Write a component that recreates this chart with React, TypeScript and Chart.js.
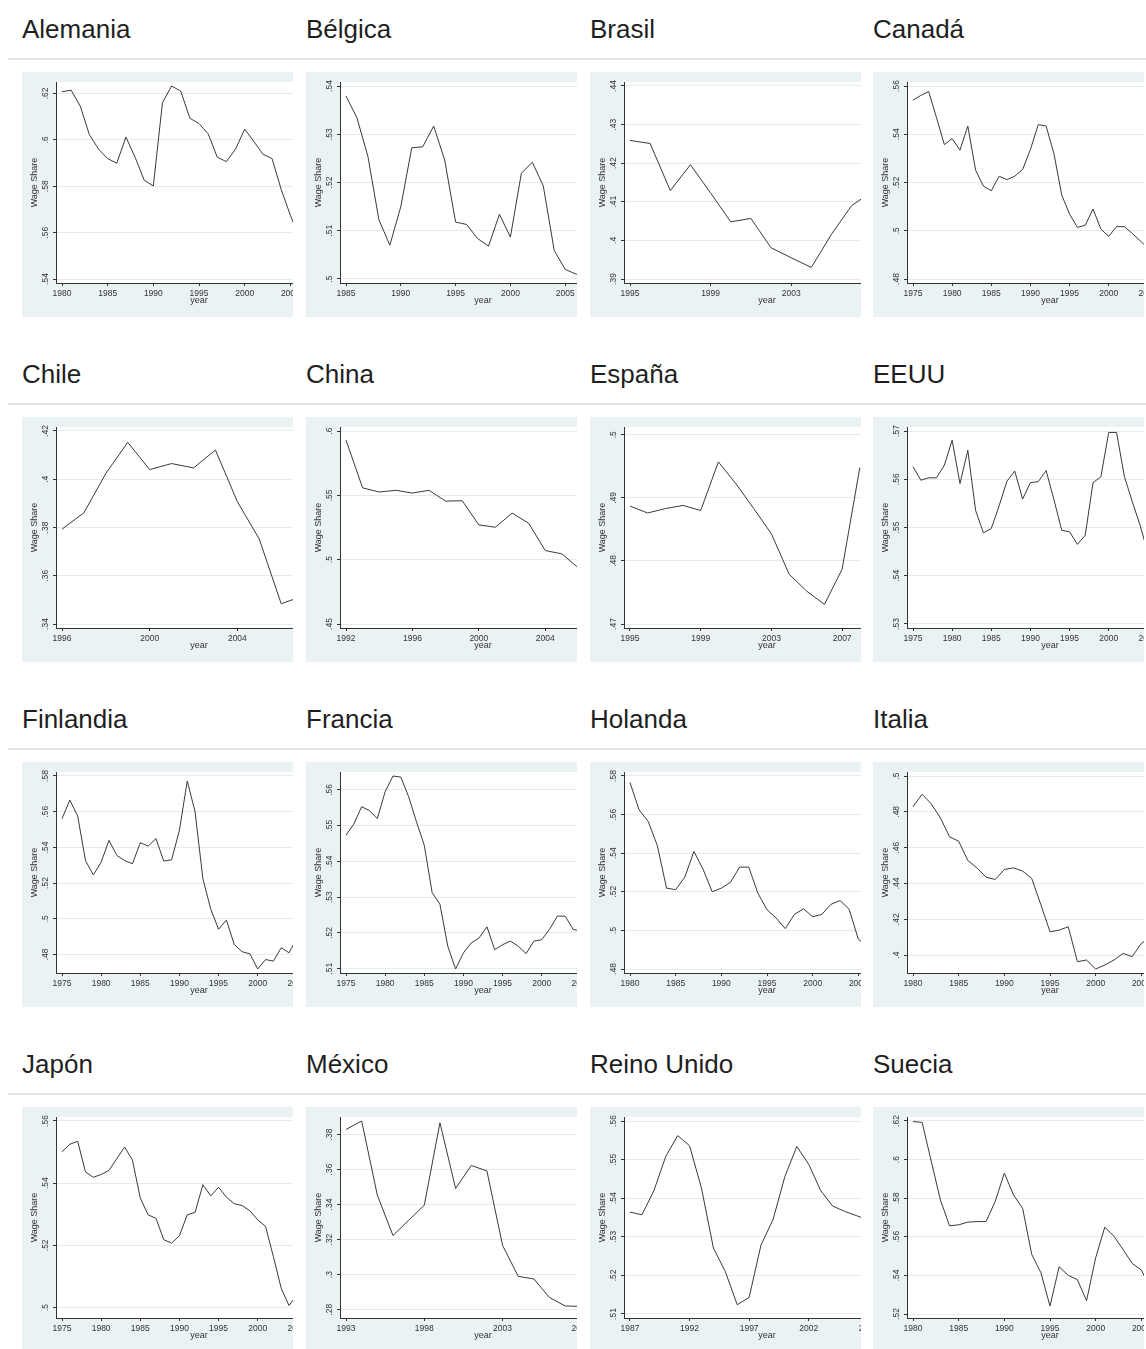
import React, { useEffect, useRef } from "react";
import { Chart, registerables } from "chart.js";

Chart.register(...registerables);

// ---------- wage share series (share of GDP) ----------
const alemaniaYears = [1980, 1981, 1982, 1983, 1984, 1985, 1986, 1987, 1988, 1989, 1990, 1991, 1992, 1993, 1994, 1995, 1996, 1997, 1998, 1999, 2000, 2001, 2002, 2003, 2004, 2005, 2006];
const alemaniaShare = [0.6207, 0.6214, 0.6145, 0.6022, 0.596, 0.5919, 0.5899, 0.6012, 0.5925, 0.5826, 0.5801, 0.616, 0.6232, 0.621, 0.6093, 0.607, 0.6026, 0.5925, 0.5906, 0.596, 0.6046, 0.5993, 0.5938, 0.5919, 0.5786, 0.5675, 0.558];
const alemaniaYearTicks = [1980, 1985, 1990, 1995, 2000, 2005, 2010];
const alemaniaShareTicks = [0.54, 0.56, 0.58, 0.6, 0.62];

const belgicaYears = [1985, 1986, 1987, 1988, 1989, 1990, 1991, 1992, 1993, 1994, 1995, 1996, 1997, 1998, 1999, 2000, 2001, 2002, 2003, 2004, 2005, 2006, 2007];
const belgicaShare = [0.5379, 0.5334, 0.5254, 0.5123, 0.507, 0.515, 0.5272, 0.5274, 0.5317, 0.5247, 0.5118, 0.5113, 0.5084, 0.5068, 0.5134, 0.5087, 0.5219, 0.5242, 0.5193, 0.5059, 0.502, 0.501, 0.5003];
const belgicaYearTicks = [1985, 1990, 1995, 2000, 2005, 2010];
const belgicaShareTicks = [0.5, 0.51, 0.52, 0.53, 0.54];

const brasilYears = [1995, 1996, 1997, 1998, 1999, 2000, 2001, 2002, 2003, 2004, 2005, 2006, 2007];
const brasilShare = [0.4259, 0.4251, 0.4129, 0.4196, 0.4123, 0.4048, 0.4057, 0.3981, 0.3955, 0.393, 0.4016, 0.409, 0.4126];
const brasilYearTicks = [1995, 1999, 2003, 2007];
const brasilShareTicks = [0.39, 0.4, 0.41, 0.42, 0.43, 0.44];

const canadaYears = [1975, 1976, 1977, 1978, 1979, 1980, 1981, 1982, 1983, 1984, 1985, 1986, 1987, 1988, 1989, 1990, 1991, 1992, 1993, 1994, 1995, 1996, 1997, 1998, 1999, 2000, 2001, 2002, 2003, 2004, 2005];
const canadaShare = [0.5541, 0.5561, 0.5577, 0.5469, 0.5357, 0.5382, 0.5334, 0.5434, 0.5251, 0.5185, 0.5166, 0.5226, 0.5212, 0.5226, 0.5254, 0.5337, 0.544, 0.5434, 0.532, 0.5148, 0.5069, 0.5014, 0.5023, 0.509, 0.5007, 0.4977, 0.5017, 0.5017, 0.4989, 0.4959, 0.4928];
const canadaYearTicks = [1975, 1980, 1985, 1990, 1995, 2000, 2005, 2010];
const canadaShareTicks = [0.48, 0.5, 0.52, 0.54, 0.56];

const chileYears = [1996, 1997, 1998, 1999, 2000, 2001, 2002, 2003, 2004, 2005, 2006, 2007];
const chileShare = [0.3793, 0.3861, 0.4024, 0.4153, 0.404, 0.4065, 0.4047, 0.4121, 0.3907, 0.3752, 0.3484, 0.3516];
const chileYearTicks = [1996, 2000, 2004, 2008];
const chileShareTicks = [0.34, 0.36, 0.38, 0.4, 0.42];

const chinaYears = [1992, 1993, 1994, 1995, 1996, 1997, 1998, 1999, 2000, 2001, 2002, 2003, 2004, 2005, 2006];
const chinaShare = [0.5929, 0.5558, 0.5526, 0.5539, 0.5518, 0.5539, 0.5455, 0.5458, 0.527, 0.5252, 0.5362, 0.5283, 0.5071, 0.5045, 0.4935];
const chinaYearTicks = [1992, 1996, 2000, 2004, 2008];
const chinaShareTicks = [0.45, 0.5, 0.55, 0.6];

const espanaYears = [1995, 1996, 1997, 1998, 1999, 2000, 2001, 2002, 2003, 2004, 2005, 2006, 2007, 2008];
const espanaShare = [0.4887, 0.4876, 0.4883, 0.4888, 0.488, 0.4957, 0.4922, 0.4883, 0.4843, 0.4779, 0.4752, 0.4731, 0.4787, 0.4948];
const espanaYearTicks = [1995, 1999, 2003, 2007];
const espanaShareTicks = [0.47, 0.48, 0.49, 0.5];

const eeuuYears = [1975, 1976, 1977, 1978, 1979, 1980, 1981, 1982, 1983, 1984, 1985, 1986, 1987, 1988, 1989, 1990, 1991, 1992, 1993, 1994, 1995, 1996, 1997, 1998, 1999, 2000, 2001, 2002, 2003, 2004, 2005];
const eeuuShare = [0.5626, 0.5598, 0.5603, 0.5603, 0.5629, 0.5681, 0.5591, 0.566, 0.5535, 0.5489, 0.5498, 0.5545, 0.5596, 0.5617, 0.5559, 0.5593, 0.5595, 0.5618, 0.5558, 0.5494, 0.5491, 0.5465, 0.5484, 0.5593, 0.5605, 0.5697, 0.5697, 0.5606, 0.5554, 0.5505, 0.5448];
const eeuuYearTicks = [1975, 1980, 1985, 1990, 1995, 2000, 2005, 2010];
const eeuuShareTicks = [0.53, 0.54, 0.55, 0.56, 0.57];

const finlandiaYears = [1975, 1976, 1977, 1978, 1979, 1980, 1981, 1982, 1983, 1984, 1985, 1986, 1987, 1988, 1989, 1990, 1991, 1992, 1993, 1994, 1995, 1996, 1997, 1998, 1999, 2000, 2001, 2002, 2003, 2004, 2005];
const finlandiaShare = [0.5561, 0.5665, 0.5576, 0.5326, 0.5245, 0.5317, 0.5439, 0.5355, 0.5326, 0.5308, 0.5426, 0.5407, 0.5449, 0.5323, 0.533, 0.5496, 0.5772, 0.5599, 0.5223, 0.5054, 0.4941, 0.4992, 0.4856, 0.4815, 0.4803, 0.4718, 0.4771, 0.4762, 0.4837, 0.4809, 0.489];
const finlandiaYearTicks = [1975, 1980, 1985, 1990, 1995, 2000, 2005, 2010];
const finlandiaShareTicks = [0.48, 0.5, 0.52, 0.54, 0.56, 0.58];

const franciaYears = [1975, 1976, 1977, 1978, 1979, 1980, 1981, 1982, 1983, 1984, 1985, 1986, 1987, 1988, 1989, 1990, 1991, 1992, 1993, 1994, 1995, 1996, 1997, 1998, 1999, 2000, 2001, 2002, 2003, 2004, 2005];
const franciaShare = [0.5473, 0.5505, 0.5553, 0.5542, 0.552, 0.5595, 0.5639, 0.5636, 0.5581, 0.5511, 0.5445, 0.5313, 0.528, 0.5163, 0.5099, 0.5144, 0.5172, 0.5186, 0.5217, 0.5153, 0.5167, 0.5177, 0.5163, 0.5142, 0.5177, 0.5181, 0.521, 0.5247, 0.5247, 0.521, 0.5205];
const franciaYearTicks = [1975, 1980, 1985, 1990, 1995, 2000, 2005, 2010];
const franciaShareTicks = [0.51, 0.52, 0.53, 0.54, 0.55, 0.56];

const holandaYears = [1980, 1981, 1982, 1983, 1984, 1985, 1986, 1987, 1988, 1989, 1990, 1991, 1992, 1993, 1994, 1995, 1996, 1997, 1998, 1999, 2000, 2001, 2002, 2003, 2004, 2005, 2006];
const holandaShare = [0.5766, 0.5624, 0.5564, 0.5438, 0.5219, 0.5211, 0.5276, 0.5409, 0.5317, 0.52, 0.5219, 0.5249, 0.5328, 0.5328, 0.5193, 0.5107, 0.5064, 0.5009, 0.5083, 0.5112, 0.5071, 0.5083, 0.5135, 0.5155, 0.5109, 0.4954, 0.492];
const holandaYearTicks = [1980, 1985, 1990, 1995, 2000, 2005, 2010];
const holandaShareTicks = [0.48, 0.5, 0.52, 0.54, 0.56, 0.58];

const italiaYears = [1980, 1981, 1982, 1983, 1984, 1985, 1986, 1987, 1988, 1989, 1990, 1991, 1992, 1993, 1994, 1995, 1996, 1997, 1998, 1999, 2000, 2001, 2002, 2003, 2004, 2005, 2006];
const italiaShare = [0.4829, 0.4898, 0.4844, 0.4766, 0.466, 0.4636, 0.4528, 0.4487, 0.4435, 0.4422, 0.4478, 0.4487, 0.4469, 0.4428, 0.4281, 0.413, 0.4139, 0.4158, 0.3963, 0.3972, 0.3922, 0.3944, 0.3972, 0.4009, 0.3991, 0.4065, 0.41];
const italiaYearTicks = [1980, 1985, 1990, 1995, 2000, 2005, 2010];
const italiaShareTicks = [0.4, 0.42, 0.44, 0.46, 0.48, 0.5];

const japonYears = [1975, 1976, 1977, 1978, 1979, 1980, 1981, 1982, 1983, 1984, 1985, 1986, 1987, 1988, 1989, 1990, 1991, 1992, 1993, 1994, 1995, 1996, 1997, 1998, 1999, 2000, 2001, 2002, 2003, 2004, 2005];
const japonShare = [0.5501, 0.5525, 0.5535, 0.5436, 0.5419, 0.5428, 0.5441, 0.5479, 0.5516, 0.5474, 0.5352, 0.5298, 0.5287, 0.5218, 0.5207, 0.5231, 0.5298, 0.5306, 0.5395, 0.5359, 0.5387, 0.5355, 0.5334, 0.5328, 0.5311, 0.5282, 0.5261, 0.5164, 0.5062, 0.5006, 0.504];
const japonYearTicks = [1975, 1980, 1985, 1990, 1995, 2000, 2005, 2010];
const japonShareTicks = [0.5, 0.52, 0.54, 0.56];

const mexicoYears = [1993, 1994, 1995, 1996, 1997, 1998, 1999, 2000, 2001, 2002, 2003, 2004, 2005, 2006, 2007, 2008];
const mexicoShare = [0.3829, 0.3877, 0.3454, 0.3223, 0.331, 0.3396, 0.3867, 0.3492, 0.3623, 0.3592, 0.3167, 0.299, 0.2975, 0.2869, 0.2821, 0.2818];
const mexicoYearTicks = [1993, 1998, 2003, 2008];
const mexicoShareTicks = [0.28, 0.3, 0.32, 0.34, 0.36, 0.38];

const reinoUnidoYears = [1987, 1988, 1989, 1990, 1991, 1992, 1993, 1994, 1995, 1996, 1997, 1998, 1999, 2000, 2001, 2002, 2003, 2004, 2005, 2006, 2007];
const reinoUnidoShare = [0.5364, 0.5357, 0.5419, 0.5508, 0.5562, 0.5536, 0.5426, 0.5271, 0.521, 0.5124, 0.5143, 0.5279, 0.5344, 0.5456, 0.5534, 0.5488, 0.542, 0.538, 0.5366, 0.5355, 0.5343];
const reinoUnidoYearTicks = [1987, 1992, 1997, 2002, 2007];
const reinoUnidoShareTicks = [0.51, 0.52, 0.53, 0.54, 0.55, 0.56];

const sueciaYears = [1980, 1981, 1982, 1983, 1984, 1985, 1986, 1987, 1988, 1989, 1990, 1991, 1992, 1993, 1994, 1995, 1996, 1997, 1998, 1999, 2000, 2001, 2002, 2003, 2004, 2005, 2006];
const sueciaShare = [0.6197, 0.6193, 0.5991, 0.5791, 0.5657, 0.5662, 0.5676, 0.5679, 0.5679, 0.5783, 0.593, 0.5817, 0.5748, 0.5509, 0.5414, 0.5241, 0.5445, 0.54, 0.5378, 0.5269, 0.5491, 0.565, 0.5603, 0.5534, 0.5462, 0.5428, 0.533];
const sueciaYearTicks = [1980, 1985, 1990, 1995, 2000, 2005, 2010];
const sueciaShareTicks = [0.52, 0.54, 0.56, 0.58, 0.6, 0.62];

type Panel = {
  title: string;
  years: number[];
  share: number[];
  yearTicks: number[];
  shareTicks: number[];
  axisEnd: number; // last year covered by the x axis
  floor?: number; // lower end of the share axis when the series runs below the visible years
  ceil?: number;
};

const PANELS: Panel[] = [
  { title: "Alemania", years: alemaniaYears, share: alemaniaShare, yearTicks: alemaniaYearTicks, shareTicks: alemaniaShareTicks, axisEnd: 2010 },
  { title: "Bélgica", years: belgicaYears, share: belgicaShare, yearTicks: belgicaYearTicks, shareTicks: belgicaShareTicks, axisEnd: 2010 },
  { title: "Brasil", years: brasilYears, share: brasilShare, yearTicks: brasilYearTicks, shareTicks: brasilShareTicks, axisEnd: 2008.6 },
  { title: "Canadá", years: canadaYears, share: canadaShare, yearTicks: canadaYearTicks, shareTicks: canadaShareTicks, axisEnd: 2010 },
  { title: "Chile", years: chileYears, share: chileShare, yearTicks: chileYearTicks, shareTicks: chileShareTicks, axisEnd: 2008.5 },
  { title: "China", years: chinaYears, share: chinaShare, yearTicks: chinaYearTicks, shareTicks: chinaShareTicks, axisEnd: 2008.5 },
  { title: "España", years: espanaYears, share: espanaShare, yearTicks: espanaYearTicks, shareTicks: espanaShareTicks, axisEnd: 2010.5, ceil: 0.5006 },
  { title: "EEUU", years: eeuuYears, share: eeuuShare, yearTicks: eeuuYearTicks, shareTicks: eeuuShareTicks, axisEnd: 2010 },
  { title: "Finlandia", years: finlandiaYears, share: finlandiaShare, yearTicks: finlandiaYearTicks, shareTicks: finlandiaShareTicks, axisEnd: 2010 },
  { title: "Francia", years: franciaYears, share: franciaShare, yearTicks: franciaYearTicks, shareTicks: franciaShareTicks, axisEnd: 2010 },
  { title: "Holanda", years: holandaYears, share: holandaShare, yearTicks: holandaYearTicks, shareTicks: holandaShareTicks, axisEnd: 2010 },
  { title: "Italia", years: italiaYears, share: italiaShare, yearTicks: italiaYearTicks, shareTicks: italiaShareTicks, axisEnd: 2010 },
  { title: "Japón", years: japonYears, share: japonShare, yearTicks: japonYearTicks, shareTicks: japonShareTicks, axisEnd: 2010, floor: 0.4979 },
  { title: "México", years: mexicoYears, share: mexicoShare, yearTicks: mexicoYearTicks, shareTicks: mexicoShareTicks, axisEnd: 2010.5, floor: 0.2775 },
  { title: "Reino Unido", years: reinoUnidoYears, share: reinoUnidoShare, yearTicks: reinoUnidoYearTicks, shareTicks: reinoUnidoShareTicks, axisEnd: 2010 },
  { title: "Suecia", years: sueciaYears, share: sueciaShare, yearTicks: sueciaYearTicks, shareTicks: sueciaShareTicks, axisEnd: 2010 },
];

// ---------- layout ----------
const COL_X = [22, 306, 590, 873];
const ROW_STEP = 345;
const PANEL_W = 271;
const PANEL_H = 245;
const CANVAS_W = 340;
const PLOT_LEFT = 34;
const PLOT_TOP = 10;
const PLOT_RIGHT = 320;
const PLOT_BOTTOM = 211;
const PAD_X = 6;
const PAD_Y = 4;
const TICK_LEN = 3;
const YLABEL_OFFSET = 10;

const GRAPH_BG = "#eaf2f3";
const GRID = "#e3ebed";
const INK = "#333333";
const LINE = "#3a3a3a";
const AXIS_FAMILY = "'Liberation Sans', Arial, Helvetica, sans-serif";
const TICK_SIZE = 8.5;
const TITLE_SIZE = 9;

const fmtShare = (v: number) => {
  const s = String(Math.round(v * 100) / 100);
  return s.startsWith("0") ? s.slice(1) : s;
};

function widest(labels: string[]): number {
  const ctx = document.createElement("canvas").getContext("2d");
  if (!ctx) return 10;
  ctx.font = `${TICK_SIZE}px ${AXIS_FAMILY}`;
  return Math.max(...labels.map((l) => ctx.measureText(l).width));
}

// white plot region inside the tinted graph region
const plotFill = {
  id: "plotFill",
  beforeDraw(chart: Chart) {
    const { ctx, chartArea: a } = chart;
    ctx.save();
    ctx.fillStyle = "#ffffff";
    ctx.fillRect(a.left, a.top, a.right - a.left, a.bottom - a.top);
    ctx.restore();
  },
};

function buildConfig(p: Panel): any {
  const lo = p.floor ?? Math.min(p.shareTicks[0], ...p.share);
  const hi = p.ceil ?? Math.max(p.shareTicks[p.shareTicks.length - 1], ...p.share);
  const x0 = p.years[0];
  const x1 = p.axisEnd;
  const plotW = PLOT_RIGHT - PLOT_LEFT;
  const plotH = PLOT_BOTTOM - PLOT_TOP;
  const dx = ((x1 - x0) * PAD_X) / (plotW - 2 * PAD_X);
  const dy = ((hi - lo) * PAD_Y) / (plotH - 2 * PAD_Y);
  const yLabelPad = YLABEL_OFFSET - TICK_LEN - widest(p.shareTicks.map(fmtShare)) / 2;
  const tickFont = { family: AXIS_FAMILY, size: TICK_SIZE };
  const titleFont = { family: AXIS_FAMILY, size: TITLE_SIZE };
  const titleHalf = (TITLE_SIZE * 1.2) / 2;

  return {
    type: "line",
    data: {
      datasets: [
        {
          data: p.years.map((yr, i) => ({ x: yr, y: p.share[i] })),
          borderColor: LINE,
          borderWidth: 1,
          pointRadius: 0,
          tension: 0,
          fill: false,
        },
      ],
    },
    options: {
      responsive: false,
      animation: false,
      devicePixelRatio: 1,
      events: [],
      layout: { padding: { left: 0, top: PLOT_TOP, right: CANVAS_W - PLOT_RIGHT, bottom: 0 } },
      plugins: { legend: { display: false }, tooltip: { enabled: false } },
      scales: {
        x: {
          type: "linear",
          position: "bottom",
          min: x0 - dx,
          max: x1 + dx,
          afterBuildTicks: (s: any) => {
            s.ticks = p.yearTicks.map((v) => ({ value: v }));
          },
          afterFit: (s: any) => {
            s.height = PANEL_H - PLOT_BOTTOM;
            s.paddingLeft = 0;
            s.paddingRight = 0;
          },
          ticks: {
            autoSkip: false,
            maxRotation: 0,
            minRotation: 0,
            padding: 2.5,
            color: INK,
            font: tickFont,
            callback: (v: number) => String(v),
          },
          grid: { display: true, drawOnChartArea: false, drawTicks: true, tickLength: TICK_LEN, tickColor: INK },
          border: { display: true, color: INK, width: 1 },
          title: { display: true, text: "year", color: INK, font: titleFont, padding: { top: 0, bottom: 16 - titleHalf } },
        },
        y: {
          type: "linear",
          position: "left",
          min: lo - dy,
          max: hi + dy,
          afterBuildTicks: (s: any) => {
            s.ticks = p.shareTicks.map((v) => ({ value: v }));
          },
          afterFit: (s: any) => {
            s.width = PLOT_LEFT;
            s.paddingTop = 0;
            s.paddingBottom = 0;
          },
          ticks: {
            autoSkip: false,
            minRotation: 90,
            maxRotation: 90,
            crossAlign: "center",
            padding: yLabelPad,
            color: INK,
            font: tickFont,
            callback: (v: number) => fmtShare(v),
          },
          grid: { display: true, drawOnChartArea: true, drawTicks: true, tickLength: TICK_LEN, color: GRID, tickColor: INK, lineWidth: 1 },
          border: { display: true, color: INK, width: 1 },
          title: { display: true, text: "Wage Share", color: INK, font: titleFont, padding: { top: 12.5 - titleHalf, bottom: 0 } },
        },
      },
    },
    plugins: [plotFill],
  };
}

function WageShareGraph({ panel }: { panel: Panel }) {
  const ref = useRef<HTMLCanvasElement>(null);
  useEffect(() => {
    if (!ref.current) return;
    const chart = new Chart(ref.current, buildConfig(panel));
    return () => chart.destroy();
  }, [panel]);
  return (
    <div style={{ width: PANEL_W, height: PANEL_H, overflow: "hidden", background: GRAPH_BG }}>
      <canvas ref={ref} width={CANVAS_W} height={PANEL_H} style={{ display: "block", width: CANVAS_W, height: PANEL_H }} />
    </div>
  );
}

export default function App() {
  return (
    <div
      style={{
        position: "absolute",
        left: 0,
        top: 0,
        width: 1146,
        height: 1349,
        overflow: "hidden",
        background: "#ffffff",
        fontFamily: "'Liberation Sans', Arial, Helvetica, sans-serif",
      }}
    >
      {[0, 1, 2, 3].map((r) => (
        <div
          key={"rule" + r}
          style={{ position: "absolute", left: 8, top: 58 + r * ROW_STEP, width: 1138, height: 2, background: "#e4e4e4" }}
        />
      ))}
      {PANELS.map((p, i) => {
        const r = Math.floor(i / 4);
        const c = i % 4;
        return (
          <React.Fragment key={p.title}>
            <div
              style={{
                position: "absolute",
                left: COL_X[c],
                top: 14 + r * ROW_STEP,
                fontSize: 26,
                lineHeight: "30px",
                color: "#1f1f1f",
                whiteSpace: "nowrap",
              }}
            >
              {p.title}
            </div>
            <div style={{ position: "absolute", left: COL_X[c], top: 72 + r * ROW_STEP }}>
              <WageShareGraph panel={p} />
            </div>
          </React.Fragment>
        );
      })}
    </div>
  );
}
